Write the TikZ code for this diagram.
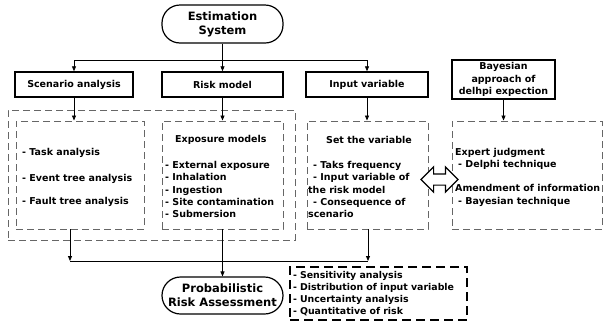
\documentclass[tikz,border=0pt]{standalone}
\usepackage{fontspec}
\setmainfont{DejaVu Sans}
\usetikzlibrary{arrows.meta,shapes.arrows}

\begin{document}
\begin{tikzpicture}[x=1pt, y=-1pt,
  box/.style={draw, line width=1.4pt, inner sep=0pt, font=\fontsize{9.5}{12.5}\selectfont\bfseries, align=center},
  term/.style={draw, line width=1.2pt, rounded corners=18pt, inner sep=0pt, font=\fontsize{11.5}{14}\selectfont\bfseries, align=center},
  grp/.style={draw=gray!80!black, dash pattern=on 7pt off 4pt, line width=0.9pt, inner sep=0pt},
  res/.style={draw, dash pattern=on 9pt off 5pt, line width=1.6pt, inner xsep=3pt, inner ysep=0pt, align=left, font=\fontsize{9.4}{11.8}\selectfont\bfseries},
  lst/.style={inner sep=0pt, anchor=west, align=left, font=\fontsize{9.5}{12.3}\selectfont\bfseries},
  arr/.style={-{Triangle[length=5pt,width=4pt]}, line width=0.8pt}]
\useasboundingbox (0,0) rectangle (603,325);
% top of the chart
\node[term, minimum width=121pt, minimum height=38pt] (est) at (222.5,24) {Estimation\\System};
\node[box, minimum width=118pt, minimum height=25pt] (scen) at (74,84.5) {Scenario analysis};
\node[box, minimum width=121pt, minimum height=25pt] (risk) at (222.5,84.5) {Risk model};
\node[box, minimum width=122pt, minimum height=25pt] (inp) at (367,84.5) {Input variable};
\node[box, minimum width=103pt, minimum height=39pt] (bay) at (503.5,79.5) {Bayesian\\approach of\\delhpi expection};
\coordinate (fork) at (222.5,60);
\draw[line width=0.8pt] (fork -| scen) -- (fork -| inp);
\draw[arr] (est) -- (risk);
\draw[arr] (fork -| scen) -- (scen);
\draw[arr] (fork -| inp) -- (inp);
% dashed groups
\node[grp, minimum width=287pt, minimum height=130pt] (all) at (151.5,175) {};
\node[grp, minimum width=128pt, minimum height=108pt] (sc) at (80,175) {};
\node[grp, minimum width=121pt, minimum height=108pt] (rm) at (222.5,175) {};
\node[grp, minimum width=121pt, minimum height=108pt] (iv) at (367.5,175) {};
\node[grp, minimum width=150pt, minimum height=108pt] (ba) at (527,175) {};
\draw[arr] (scen) -- (scen |- sc.north);
\draw[arr] (risk) -- (rm.north);
\draw[arr] (inp) -- (inp |- iv.north);
\draw[arr] (bay) -- (bay |- ba.north);
% contents
\node[lst] (sctxt) at (22,177.5) {- Task analysis\\[13pt]- Event tree analysis\\[11pt]- Fault tree analysis};
\node[lst] (rmhead) at (175,140) {Exposure models};
\node[lst] (rmtxt) at (165,189.5) {- External exposure\\- Inhalation\\- Ingestion\\- Site contamination\\- Submersion};
\node[lst] (ivhead) at (326,140) {Set the variable};
\node[lst] (ivtxt) at (308,189.5) {\hspace{5pt}- Taks frequency\\\hspace{5pt}- Input variable of\\the risk model\\\hspace{5pt}- Consequence of\\scenario};
\node[lst] (batxt) at (455,177) {Expert judgment\\\hspace{3pt}- Delphi technique\\[12pt]Amendment of information\\\hspace{3pt}- Bayesian technique};
\node[double arrow, draw, line width=1.2pt, fill=white, inner sep=5pt, minimum height=37pt, double arrow head extend=7pt] (link) at (439.5,179.5) {};
% bottom of the chart
\node[term, rounded corners=18.5pt, minimum width=121pt, minimum height=37pt] (pra) at (222.5,295.5) {Probabilistic\\Risk Assessment};
\node[res, text width=171pt, minimum height=53pt] (out) at (378.5,293.5) {- Sensitivity analysis\\- Distribution of input variable\\- Uncertainty analysis\\- Quantitative of risk};
\coordinate (busL) at (70,261);
\coordinate (busR) at (368,261);
\draw[line width=0.8pt] (busL) -- (busR);
\draw[arr] (busL |- sc.south) -- (busL);
\draw[arr] (busR |- iv.south) -- (busR);
\draw[arr] (rm) -- (pra);
\end{tikzpicture}
\end{document}
